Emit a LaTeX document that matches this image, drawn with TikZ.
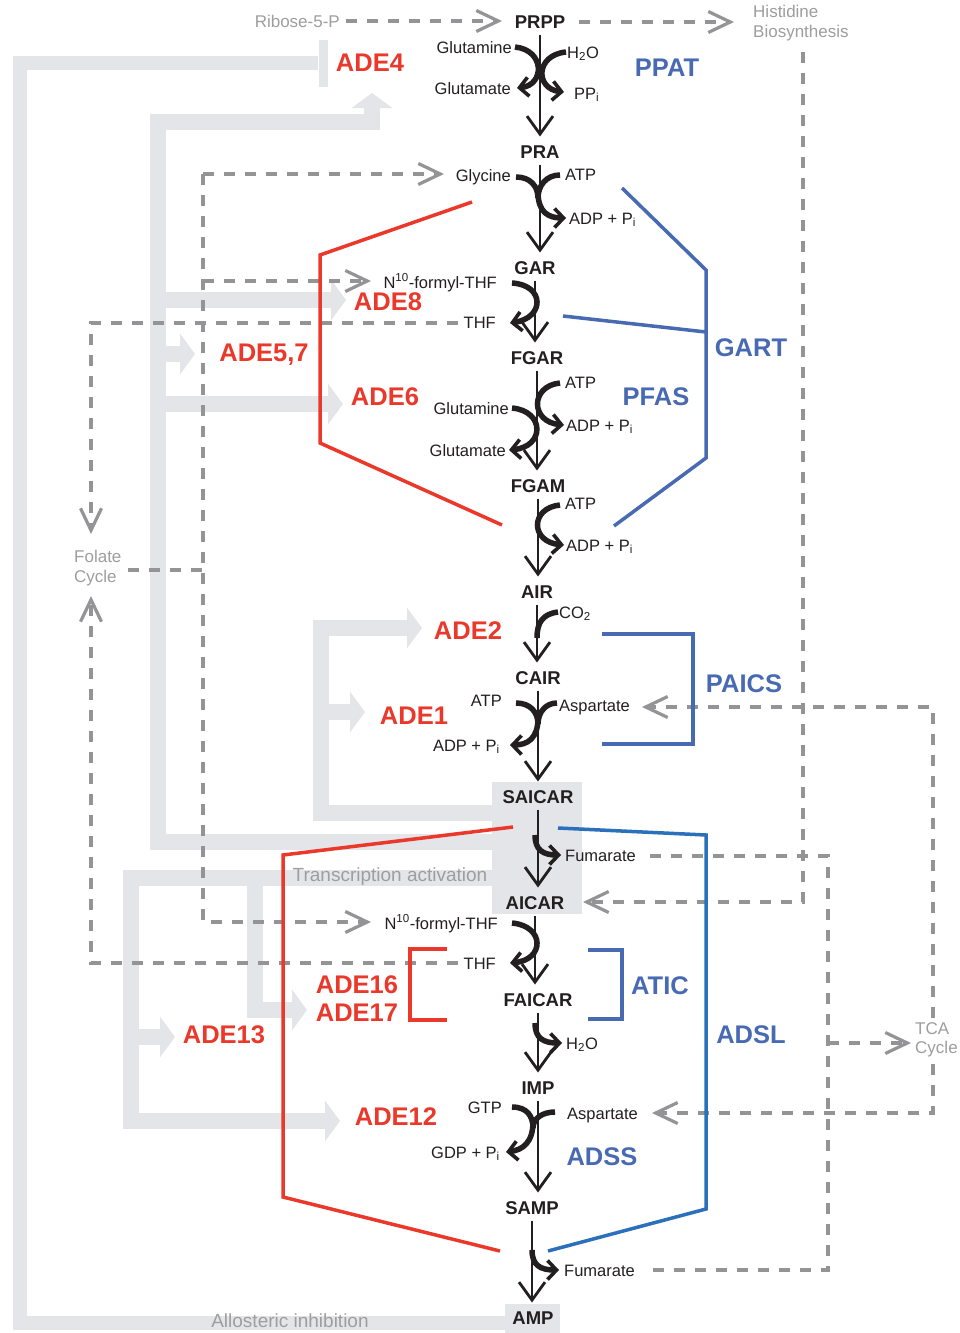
\documentclass[tikz,border=0pt]{standalone}
\usepackage{fontspec}
\setmainfont{Liberation Sans}
\usetikzlibrary{arrows.meta}
\definecolor{bandgray}{RGB}{228,229,232}
\definecolor{dashgray}{RGB}{148,148,150}
\definecolor{labgray}{RGB}{158,158,160}
\definecolor{enzred}{RGB}{234,56,42}
\definecolor{enzblue}{RGB}{72,106,178}
\definecolor{adslblue}{RGB}{42,112,186}
\definecolor{ink}{RGB}{35,31,32}
\begin{document}
\begin{tikzpicture}[x=1pt,y=-1pt,
 met/.style={font=\fontsize{18.5}{20}\selectfont\bfseries, text=ink, inner sep=1pt, outer sep=2pt, text height=13pt, text depth=0pt},
 lab/.style={font=\fontsize{16.5}{18}\selectfont, text=ink, inner sep=0pt, text height=12pt, text depth=0pt},
 ered/.style={font=\fontsize{25.5}{27}\selectfont\bfseries, text=enzred, inner sep=0pt},
 eblue/.style={font=\fontsize{25.5}{27}\selectfont\bfseries, text=enzblue, inner sep=0pt},
 glab/.style={font=\fontsize{17}{19.5}\selectfont, text=labgray, inner sep=0pt, align=left},
 band/.style={draw=bandgray, line width=16pt, line join=miter},
 bandarr/.style={band, -{Triangle[length=15pt,width=40pt]}},
 dl/.style={draw=dashgray, line width=3.8pt, dash pattern=on 11pt off 10pt},
 dla/.style={dl, -{Straight Barb[length=22pt,width=21pt,line width=3.2pt]}},
 redl/.style={draw=enzred, line width=3.5pt, line join=miter},
 bluel/.style={draw=enzblue, line width=3.5pt, line join=miter},
 mainarr/.style={draw=ink, line width=2.8pt, shorten >=6pt, shorten <=3pt, -{Straight Barb[length=18pt,width=26pt,line width=2.8pt]}},
 arm/.style={draw=ink, line width=5.5pt},
 armarr/.style={arm, -{Straight Barb[length=9pt,width=19pt,line width=3.6pt]}}
]
\useasboundingbox (0,0) rectangle (959,1333);
\fill[white] (0,0) rectangle (959,1333);

% ---------- grey regulation bands ----------
\fill[bandgray] (492,782) rectangle (582,914);
\fill[bandgray] (505,1304) rectangle (560,1333);
% allosteric inhibition
\draw[band, line width=14pt] (505,1323) -- (20,1323) -- (20,63) -- (318,63);
\draw[draw=bandgray, line width=9pt] (323,40) -- (323,87);
% activation from SAICAR (outer)
\draw[bandarr] (492,842) -- (158,842) -- (158,122) -- (372,122) -- (372,93);
\draw[bandarr] (158,300) -- (346,300);
\draw[bandarr] (158,354) -- (195,354);
\draw[bandarr] (158,404) -- (343,404);
% activation from SAICAR (inner)
\draw[bandarr] (492,813) -- (321,813) -- (321,628) -- (422,628);
\draw[bandarr] (321,712) -- (365,712);
% transcription activation
\draw[bandarr] (492,878) -- (131,878) -- (131,1121) -- (340,1121);
\draw[bandarr] (131,1037) -- (175,1037);
\draw[bandarr] (255,878) -- (255,1010) -- (307,1010);

% ---------- grey dashed links ----------
\draw[dla] (346,21) -- (502,21);
\draw[dla] (579,22) -- (734,22);
\draw[dla] (803,52) -- (803,902) -- (583,902);
\draw[dla] (203,174) -- (444,174);
\draw[dla] (203,174) -- (203,922) -- (371,922);
\draw[dla] (203,281) -- (371,281);
\draw[dl] (128,570) -- (203,570);
\draw[dla] (458,323) -- (91,323) -- (91,534);
\draw[dla] (458,963) -- (91,963) -- (91,596);
\draw[dl] (650,856) -- (828,856) -- (828,1270) -- (650,1270);
\draw[dla] (828,1043) -- (911,1043);
\draw[dla] (933,1018) -- (933,707) -- (642,707);
\draw[dla] (933,1064) -- (933,1113) -- (652,1113);

% ---------- enzyme brackets ----------
\draw[redl] (472,202) -- (320,255) -- (320,443) -- (502,525);
\draw[redl] (513,827) -- (283,855) -- (283,1197) -- (500,1251);
\draw[redl] (447,949) -- (410,949) -- (410,1020) -- (447,1020);
\draw[bluel] (622,188) -- (706,270) -- (706,458) -- (614,526);
\draw[bluel] (563,316) -- (706,332);
\draw[bluel] (602,634) -- (693,634) -- (693,744) -- (602,744);
\draw[bluel] (588,950) -- (622,950) -- (622,1019) -- (588,1019);
\draw[bluel, draw=adslblue] (558,828) -- (706,835) -- (706,1209) -- (548,1251);

% ---------- metabolites ----------
\node[met] (PRPP) at (540,22) {PRPP};
\node[met] (PRA) at (540,152) {PRA};
\node[met] (GAR) at (535,268) {GAR};
\node[met] (FGAR) at (537,358) {FGAR};
\node[met] (FGAM) at (538,486) {FGAM};
\node[met] (AIR) at (537,592) {AIR};
\node[met] (CAIR) at (538,678) {CAIR};
\node[met] (SAICAR) at (538,797) {SAICAR};
\node[met] (AICAR) at (535,903) {AICAR};
\node[met] (FAICAR) at (538,1000) {FAICAR};
\node[met] (IMP) at (538,1088) {IMP};
\node[met] (SAMP) at (532,1208) {SAMP};
\node[met] (AMP) at (533,1318) {AMP};

\draw[mainarr] (PRPP.south) -- (PRPP.south |- PRA.north);
\draw[mainarr] (PRA.south) -- (PRA.south |- GAR.north);
\draw[mainarr] (GAR.south) -- (GAR.south |- FGAR.north);
\draw[mainarr] (FGAR.south) -- (FGAR.south |- FGAM.north);
\draw[mainarr] (FGAM.south) -- (FGAM.south |- AIR.north);
\draw[mainarr] (AIR.south) -- (AIR.south |- CAIR.north);
\draw[mainarr] (CAIR.south) -- (CAIR.south |- SAICAR.north);
\draw[mainarr] (SAICAR.south) -- (SAICAR.south |- AICAR.north);
\draw[mainarr] (AICAR.south) -- (AICAR.south |- FAICAR.north);
\draw[mainarr] (FAICAR.south) -- (FAICAR.south |- IMP.north);
\draw[mainarr] (IMP.south) -- (IMP.south |- SAMP.north);
\draw[mainarr] (SAMP.south) -- (SAMP.south |- AMP.north);

% ---------- co-substrate arms ----------
% PRPP -> PRA
\draw[armarr] (515,47) .. controls (545,50) and (545,85) .. (517,88);
\draw[armarr] (566,52) .. controls (535,55) and (535,89) .. (564,92);
% PRA -> GAR
\draw[arm] (516,177) .. controls (530,177) and (538,186) .. (538,198);
\draw[arm] (560,175) .. controls (546,175) and (538,186) .. (538,198);
\draw[armarr] (538,192) .. controls (538,212) and (548,218) .. (566,218);
% GAR -> FGAR
\draw[armarr] (512,283) .. controls (545,285) and (545,318) .. (510,323);
% FGAR -> FGAM
\draw[armarr] (560,383) .. controls (530,386) and (530,422) .. (564,425);
\draw[armarr] (512,408) .. controls (545,411) and (545,447) .. (509,450);
% FGAM -> AIR
\draw[armarr] (560,505) .. controls (530,508) and (530,542) .. (564,545);
% AIR -> CAIR
\draw[arm] (558,612) .. controls (543,614) and (537,622) .. (537,638);
% CAIR -> SAICAR
\draw[arm] (516,703) .. controls (530,703) and (538,712) .. (538,724);
\draw[arm] (557,703) .. controls (546,703) and (538,712) .. (538,724);
\draw[armarr] (538,718) .. controls (538,738) and (528,745) .. (510,745);
% SAICAR -> AICAR
\draw[armarr] (535,835) .. controls (535,850) and (543,855) .. (561,855);
% AICAR -> FAICAR
\draw[armarr] (512,923) .. controls (545,926) and (545,960) .. (510,963);
% FAICAR -> IMP
\draw[armarr] (535,1023) .. controls (535,1038) and (543,1043) .. (562,1043);
% IMP -> SAMP
\draw[arm] (512,1107) .. controls (527,1107) and (533,1116) .. (533,1128);
\draw[arm] (555,1112) .. controls (543,1112) and (533,1118) .. (533,1128);
\draw[armarr] (533,1122) .. controls (533,1142) and (523,1150) .. (506,1152);
% SAMP -> AMP
\draw[armarr] (532,1250) .. controls (532,1265) and (540,1270) .. (559,1270);

% ---------- co-substrate labels ----------
\node[lab, anchor=east] (gln1) at (512,47) {Glutamine};
\node[lab, anchor=east] (glu1) at (511,88) {Glutamate};
\node[lab, anchor=west] (h2o1) at (567,52) {H\textsubscript{2}O};
\node[lab, anchor=west] (ppi) at (574,93) {PP\textsubscript{i}};
\node[lab, anchor=east] (gly) at (511,175) {Glycine};
\node[lab, anchor=west] (atp1) at (565,174) {ATP};
\node[lab, anchor=west] (adp1) at (569,218) {ADP + P\textsubscript{i}};
\node[lab, anchor=east] (nf1) at (497,282) {N\textsuperscript{10}-formyl-THF};
\node[lab, anchor=east] (thf1) at (496,322) {THF};
\node[lab, anchor=west] (atp2) at (565,382) {ATP};
\node[lab, anchor=east] (gln2) at (509,408) {Glutamine};
\node[lab, anchor=west] (adp2) at (566,425) {ADP + P\textsubscript{i}};
\node[lab, anchor=east] (glu2) at (506,450) {Glutamate};
\node[lab, anchor=west] (atp3) at (565,503) {ATP};
\node[lab, anchor=west] (adp3) at (566,545) {ADP + P\textsubscript{i}};
\node[lab, anchor=west] (co2) at (559,612) {CO\textsubscript{2}};
\node[lab, anchor=east] (atp4) at (502,700) {ATP};
\node[lab, anchor=west] (asp1) at (559,705) {Aspartate};
\node[lab, anchor=east] (adp4) at (500,745) {ADP + P\textsubscript{i}};
\node[lab, anchor=west] (fum1) at (565,855) {Fumarate};
\node[lab, anchor=east] (nf2) at (498,923) {N\textsuperscript{10}-formyl-THF};
\node[lab, anchor=east] (thf2) at (496,963) {THF};
\node[lab, anchor=west] (h2o2) at (566,1043) {H\textsubscript{2}O};
\node[lab, anchor=east] (gtp) at (502,1107) {GTP};
\node[lab, anchor=west] (asp2) at (567,1113) {Aspartate};
\node[lab, anchor=east] (gdp) at (500,1152) {GDP + P\textsubscript{i}};
\node[lab, anchor=west] (fum2) at (564,1270) {Fumarate};

% ---------- grey pathway labels ----------
\node[glab, anchor=east] (rib) at (340,21) {Ribose-5-P};
\node[glab, anchor=north west] (his) at (753,5) {Histidine\\Biosynthesis};
\node[glab, anchor=north west] (fol) at (74,550) {Folate\\Cycle};
\node[glab, anchor=north west] (tca) at (915,1022) {TCA\\Cycle};
\node[glab, font=\fontsize{19}{21}\selectfont] (trans) at (390,877) {Transcription activation};
\node[glab, font=\fontsize{19}{21}\selectfont] (allo) at (290,1321) {Allosteric inhibition};

% ---------- enzyme labels ----------
\node[ered] (ade4) at (370,63) {ADE4};
\node[ered] (ade8) at (388,302) {ADE8};
\node[ered] (ade57) at (264,355) {ADE5,7};
\node[ered] (ade6) at (385,397) {ADE6};
\node[ered] (ade2) at (468,631) {ADE2};
\node[ered] (ade1) at (414,716) {ADE1};
\node[ered] (ade16) at (357,985) {ADE16};
\node[ered] (ade17) at (357,1013) {ADE17};
\node[ered] (ade13) at (224,1035) {ADE13};
\node[ered] (ade12) at (396,1117) {ADE12};
\node[eblue] (ppat) at (667,68) {PPAT};
\node[eblue] (gart) at (751,348) {GART};
\node[eblue] (pfas) at (656,397) {PFAS};
\node[eblue] (paics) at (744,684) {PAICS};
\node[eblue] (atic) at (660,986) {ATIC};
\node[eblue] (adsl) at (751,1035) {ADSL};
\node[eblue] (adss) at (602,1157) {ADSS};
\end{tikzpicture}
\end{document}
